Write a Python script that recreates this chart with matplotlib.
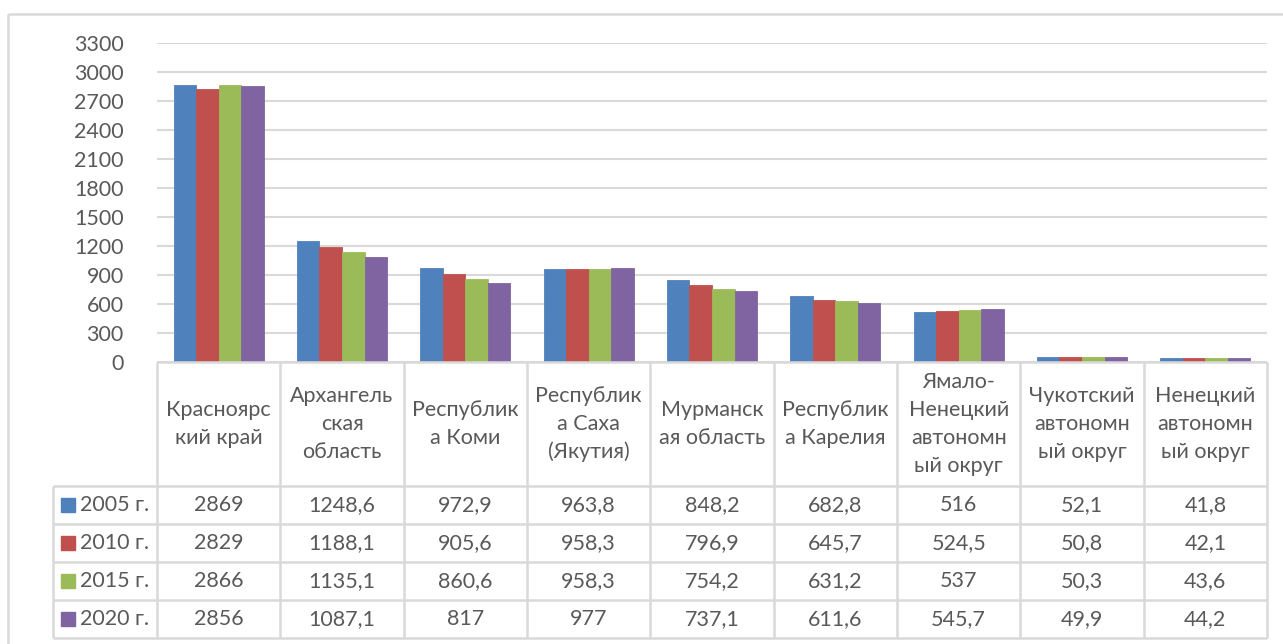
import matplotlib.pyplot as plt
import numpy as np

# data
regions = ["Красноярс\nкий край", "Архангель\nская\nобласть", "Республик\nа Коми",
           "Республик\nа Саха\n(Якутия)", "Мурманск\nая область", "Республик\nа Карелия",
           "Ямало-\nНенецкий\nавтономн\nый округ", "Чукотский\nавтономн\nый округ",
           "Ненецкий\nавтономн\nый округ"]
years = ["2005 г.", "2010 г.", "2015 г.", "2020 г."]
v2005 = [2869, 1248.6, 972.9, 963.8, 848.2, 682.8, 516, 52.1, 41.8]
v2010 = [2829, 1188.1, 905.6, 958.3, 796.9, 645.7, 524.5, 50.8, 42.1]
v2015 = [2866, 1135.1, 860.6, 958.3, 754.2, 631.2, 537, 50.3, 43.6]
v2020 = [2856, 1087.1, 817, 977, 737.1, 611.6, 545.7, 49.9, 44.2]
yticks = [0, 300, 600, 900, 1200, 1500, 1800, 2100, 2400, 2700, 3000, 3300]

series = [v2005, v2010, v2015, v2020]
colors = ["#4F81BD", "#C0504D", "#9BBB59", "#8064A2"]
txt = "#595959"
grid = "#D9D9D9"
fs = 15.5

plt.rcParams['font.family'] = ['Lato', 'DejaVu Sans']

W, H = 1283, 644
fig = plt.figure(figsize=(W / 100, H / 100), dpi=100)

# pixel geometry
x0, x1 = 157, 1267
y_top, y_zero = 43, 362
hdr_bot = 486
row_h = 38
leg_x = 53

ax = fig.add_axes([x0 / W, 1 - y_zero / H, (x1 - x0) / W, (y_zero - y_top) / H])
n = len(regions)
x = np.arange(n)
bw = 0.1825
for i, (vals, c) in enumerate(zip(series, colors)):
    ax.bar(x + (i - 1.5) * bw, vals, bw, color=c, edgecolor=c, linewidth=0.6,
           label=years[i], zorder=3)
ax.set_xlim(-0.5, n - 0.5)
ax.set_ylim(0, 3300)
ax.set_yticks(yticks)
ax.set_yticklabels([str(t) for t in yticks], fontsize=fs, color=txt)
ax.tick_params(axis='y', length=0, pad=24)
ax.set_xticks([])
ax.grid(axis='y', color=grid, linewidth=1.5, zorder=0)
for s in ax.spines.values():
    s.set_visible(False)

# overlay in pixel coordinates for table and frame
ov = fig.add_axes([0, 0, 1, 1], zorder=5)
ov.set_xlim(0, W)
ov.set_ylim(H, 0)
ov.axis('off')
ov.patch.set_alpha(0)

lc = dict(color=grid, linewidth=1.8, solid_capstyle='butt')
# outer frame
ov.plot([8, W], [14, 14], **lc)
ov.plot([8, 8], [14, H], **lc)

cw = (x1 - x0) / n
edges = [x0 + i * cw for i in range(n + 1)]
tab_bot = hdr_bot + row_h * len(years)

# horizontal lines
ov.plot([x0, x1], [y_zero, y_zero], **lc)
for r in range(len(years) + 1):
    y = hdr_bot + r * row_h
    ov.plot([leg_x, x1], [y, y], **lc)
# vertical lines
for e in edges:
    ov.plot([e, e], [y_zero, tab_bot], **lc)
ov.plot([leg_x, leg_x], [hdr_bot, tab_bot], **lc)

# header text
for i, name in enumerate(regions):
    cx = (edges[i] + edges[i + 1]) / 2
    ov.text(cx, (y_zero + hdr_bot) / 2, name, ha='center', va='center',
            fontsize=fs, color=txt, linespacing=1.5)

# rows
for r, (yr, vals, c) in enumerate(zip(years, series, colors)):
    cy = hdr_bot + (r + 0.5) * row_h
    ov.add_patch(plt.Rectangle((61, cy - 7), 14, 14, color=c))
    ov.text(80, cy, yr, ha='left', va='center', fontsize=fs, color=txt)
    for i, v in enumerate(vals):
        cx = (edges[i] + edges[i + 1]) / 2
        ov.text(cx, cy, f"{v:g}".replace('.', ','), ha='center', va='center',
                fontsize=fs, color=txt)

fig.savefig("out.png", dpi=100)
